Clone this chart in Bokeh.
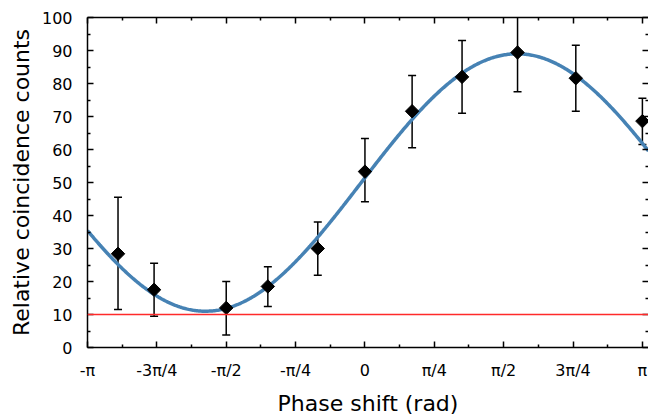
import numpy as np
from bokeh.plotting import figure
from bokeh.models import ColumnDataSource, Whisker, Span, FixedTicker, LinearAxis, Range1d, TeeHead
from bokeh.embed import file_html
from bokeh.resources import INLINE

# ---- data ----
phase_over_pi = [-0.89, -0.76, -0.50, -0.35, -0.17, 0.0, 0.17, 0.35, 0.55, 0.76, 1.0]
counts = [28.4, 17.5, 12.0, 18.5, 30.0, 53.3, 71.6, 82.0, 89.4, 81.6, 68.6]
counts_upper = [45.5, 25.5, 20.0, 24.5, 38.0, 63.3, 82.4, 93.0, 101.5, 91.6, 75.5]
counts_lower = [11.5, 9.5, 3.8, 12.4, 21.9, 44.2, 60.5, 71.0, 77.5, 71.6, 61.5]
baseline = 10

# fitted sinusoid parameters
fit_offset = 50.0
fit_amplitude = 39.0
fit_frequency = 0.89
fit_min_phase_over_pi = -0.575

x_tick_over_pi = [-1, -0.75, -0.5, -0.25, 0, 0.25, 0.5, 0.75, 1]
x_tick_labels = ["-π", "-3π/4", "-π/2", "-π/4", "0", "π/4", "π/2", "3π/4", "π"]
x_minor_over_pi = [-0.875, -0.625, -0.375, -0.125, 0.125, 0.375, 0.625, 0.875]
y_ticks = [0, 10, 20, 30, 40, 50, 60, 70, 80, 90, 100]
y_minor = [5, 15, 25, 35, 45, 55, 65, 75, 85, 95]
x_view_over_pi = (-1.0, 1.022)   # the view is cropped just past +pi

FONT = "DejaVu Sans"

phase = [v * np.pi for v in phase_over_pi]
src = ColumnDataSource(dict(x=phase, y=counts, upper=counts_upper, lower=counts_lower))

fx = np.linspace(x_view_over_pi[0] * np.pi, x_view_over_pi[1] * np.pi, 500)
fy = fit_offset - fit_amplitude * np.cos(fit_frequency * (fx - fit_min_phase_over_pi * np.pi))

p = figure(width=648, height=418,
           x_range=Range1d(x_view_over_pi[0] * np.pi, x_view_over_pi[1] * np.pi),
           y_range=Range1d(0, 100),
           output_backend="svg", toolbar_location=None,
           x_axis_label="Phase shift (rad)", y_axis_label="Relative coincidence counts",
           min_border_left=87, min_border_top=17, min_border_right=0, min_border_bottom=0)
p.grid.visible = False
p.outline_line_color = None
p.background_fill_color = "white"
p.border_fill_color = "white"

xt_vals = [v * np.pi for v in x_tick_over_pi]
xticker = FixedTicker(ticks=xt_vals, minor_ticks=[v * np.pi for v in x_minor_over_pi])
yticker = FixedTicker(ticks=y_ticks, minor_ticks=y_minor)
overrides = {v: s for v, s in zip(xt_vals, x_tick_labels)}


def style(ax):
    ax.major_tick_in = 6
    ax.major_tick_out = 0
    ax.minor_tick_in = 3
    ax.minor_tick_out = 0
    ax.major_tick_line_width = 1.5
    ax.minor_tick_line_width = 1.5
    ax.axis_line_width = 1.5
    ax.major_tick_line_color = "black"
    ax.minor_tick_line_color = "black"
    ax.axis_line_color = "black"
    ax.major_label_text_font = FONT
    ax.major_label_text_color = "black"
    ax.major_label_text_font_size = "16px"


xa = p.xaxis[0]
xa.ticker = xticker
xa.major_label_overrides = overrides
style(xa)
xa.major_label_standoff = 13
xa.axis_label_standoff = 8
xa.axis_label_text_font = FONT
xa.axis_label_text_font_size = "22px"
xa.axis_label_text_font_style = "normal"
xa.axis_label_text_color = "black"

ya = p.yaxis[0]
ya.ticker = yticker
style(ya)
ya.major_label_standoff = 15
ya.axis_label_standoff = 5
ya.axis_label_text_font = FONT
ya.axis_label_text_font_size = "22px"
ya.axis_label_text_font_style = "normal"
ya.axis_label_text_color = "black"

# mirrored tick marks (no labels) on top and right
top = LinearAxis(ticker=xticker, major_label_overrides={v: "" for v in xt_vals})
style(top)
top.major_label_text_font_size = "10px"
top.major_label_text_color = None
top.major_label_standoff = 0
p.add_layout(top, "above")

right = LinearAxis(ticker=yticker, major_label_overrides={v: "" for v in y_ticks})
style(right)
right.major_label_text_font_size = "10px"
right.major_label_text_color = None
right.major_label_standoff = 0
right.axis_line_color = None
p.add_layout(right, "right")

p.add_layout(Span(location=baseline, dimension="width", line_color="#ff2a2a", line_width=1.5))
p.line(fx, fy, line_color="#4682b4", line_width=3.5)

p.add_layout(Whisker(base="x", upper="upper", lower="lower", source=src,
                     line_color="black", line_width=1.5,
                     upper_head=TeeHead(size=8, line_width=1.5, line_color="black"),
                     lower_head=TeeHead(size=8, line_width=1.5, line_color="black")))
p.scatter("x", "y", source=src, marker="square", angle=np.pi / 4, size=9.5,
          fill_color="black", line_color="black")

open("out.html", "w").write(file_html(p, INLINE))
